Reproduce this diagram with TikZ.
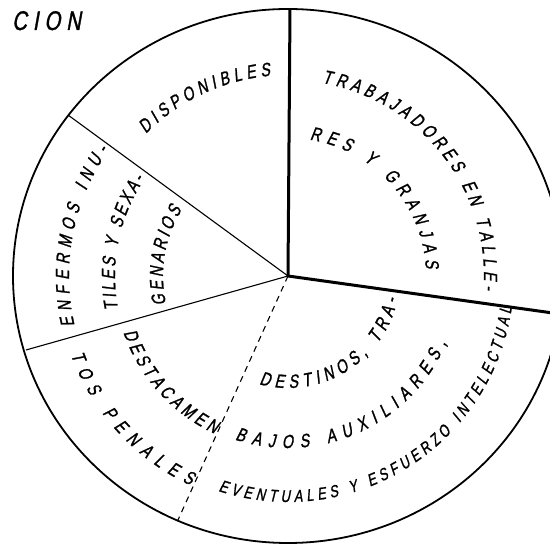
\documentclass[tikz,border=0pt]{standalone}
\usepackage{fontspec}
\newfontfamily\handfont[FakeStretch=0.75,FakeSlant=0.18,FakeBold=1.2]{Liberation Sans}
\usepackage{tikz}
\usetikzlibrary{decorations.text,calc}
\newcommand\hand{\handfont\fontsize{19}{19}\selectfont}
\newcommand\handsmall{\handfont\fontsize{17}{17}\selectfont}
\tikzset{
  arctext/.style={decorate,decoration={text along path,text={|\hand|#1},text align={fit to path}}},
  rim/.style={line width=1.8pt},
  cut/.style={line width=1.1pt},
}

\begin{document}
\begin{tikzpicture}[x=1pt,y=1pt]
\useasboundingbox (0,0) rectangle (550,546);
\coordinate (c) at (288,270);
\coordinate (top) at (290,537);
\coordinate (ul) at (68,431);
\coordinate (lft) at (26,196);
\coordinate (bot) at (178,26);
\coordinate (rgt) at (560,232);
\draw[rim] (c) ellipse[x radius=275,y radius=267];
\draw[line width=3pt] (c)--(top);
\draw[line width=3pt] (c)--(rgt);
\draw[cut] (c)--(ul);
\draw[cut] (c)--(lft);
\draw[cut,dash pattern=on 6pt off 5pt] (c)--(bot);
\node[anchor=base west,inner sep=0,font=\handfont\fontsize{27}{27}\selectfont] (title) at (12,516) {C\kern6pt I\kern6pt O\kern6pt N};
% disponibles
\path[arctext={DISPONIBLES}] (c) ++(135:201) arc[start angle=135,end angle=95,radius=201];
% trabajadores
\path[arctext={TRABAJADORES EN TALLE-}] (c) ++(80:196) arc[start angle=80,end angle=-4,radius=196];
\path[arctext={RES Y GRANJAS}] (c) ++(81:138) arc[start angle=81,end angle=3,radius=138];
% enfermos
\path[arctext={ENFERMOS INU-}] (c) ++(193:219) arc[start angle=193,end angle=145,radius=219];
\path[arctext={TILES Y SEXA-}] (c) ++(191:173) arc[start angle=191,end angle=146,radius=173];
\path[arctext={GENARIOS}] (c) ++(193:125) arc[start angle=193,end angle=148,radius=125];
% destacamentos
\path[arctext={DESTACAMEN}] (c) ++(199:174) arc[start angle=199,end angle=245,radius=174];
\path[arctext={TOS PENALES}] (c) ++(200:231) arc[start angle=200,end angle=245,radius=231];
% destinos
\path[arctext={DESTINOS, TRA-}] (c) ++(255:112) arc[start angle=255,end angle=348,radius=112];
\path[arctext={BAJOS AUXILIARES,}] (c) ++(252:172) arc[start angle=252,end angle=337,radius=172];
\path[decorate,decoration={text along path,text={|\handsmall|EVENTUALES Y ESFUERZO INTELECTUAL},text align={fit to path}}] (c) ++(252:226) arc[start angle=252,end angle=352,radius=226];
\end{tikzpicture}
\end{document}
